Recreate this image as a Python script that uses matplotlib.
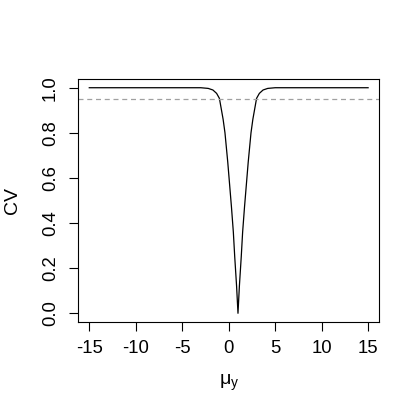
import matplotlib
matplotlib.use("Agg")
import matplotlib.pyplot as plt

# valeurs (courbe CV en fonction de mu_y)
mu_y = [-15, -5, -3, -2.2, -1.7, -1.3, -1.0, -0.6, -0.4, -0.1, 0.1, 0.3,
        0.5, 0.65, 0.85, 1.0, 1.15, 1.35, 1.5, 1.7, 1.9, 2.1, 2.4, 2.6,
        3.0, 3.3, 3.7, 4.2, 5, 15]
cv = [1.0, 1.0, 1.0, 0.997, 0.99, 0.975, 0.953, 0.86, 0.80, 0.67, 0.57, 0.47,
      0.36, 0.25, 0.12, 0.0, 0.12, 0.25, 0.36, 0.47, 0.57, 0.67, 0.80, 0.86,
      0.953, 0.975, 0.99, 0.997, 1.0, 1.0]
seuil = 0.95

xticks = [-15, -10, -5, 0, 5, 10, 15]
yticks = [0.0, 0.2, 0.4, 0.6, 0.8, 1.0]

plt.rcParams['font.family'] = ['Liberation Sans', 'DejaVu Sans']
plt.rcParams['mathtext.fontset'] = 'custom'
plt.rcParams['mathtext.rm'] = 'Liberation Sans'
plt.rcParams['mathtext.it'] = 'Liberation Sans'

fig = plt.figure(figsize=(4.2, 4.2), dpi=100)
ax = fig.add_axes([0.186, 0.2326, 0.717, 0.580])

ax.plot(mu_y, cv, color='black', lw=0.9)
ax.axhline(seuil, color='#a0a0a0', lw=0.9, ls=(0, (4, 3)))

ax.set_xlim(-16.2, 16.2)
ax.set_ylim(-0.04, 1.04)
ax.set_xticks(xticks)
ax.set_xticklabels([str(t) for t in xticks])
ax.set_yticks(yticks)
ax.set_yticklabels([f"{t:.1f}" for t in yticks], rotation=90, va='center')
ax.tick_params(direction='out', length=6.5, width=0.8, labelsize=13.3)
ax.tick_params(axis='x', pad=6.3)
ax.tick_params(axis='y', pad=7.2)

for s in ax.spines.values():
    s.set_linewidth(0.8)

ax.set_xlabel(r'$\mathrm{\mu_y}$', fontsize=14, labelpad=11)
ax.set_ylabel('CV', fontsize=14, labelpad=15)

fig.savefig("out.png", dpi=100)
